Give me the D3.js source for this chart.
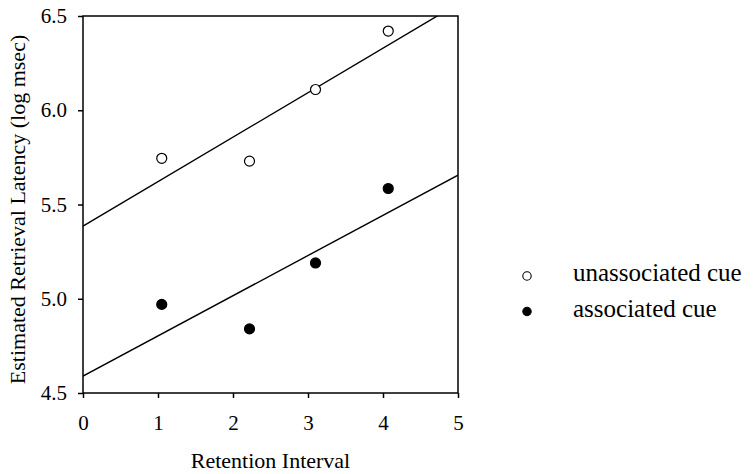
<!DOCTYPE html>
<html>
<head>
<meta charset="utf-8">
<script src="https://cdn.jsdelivr.net/npm/d3@7"></script>
<style>
  body { margin: 0; background: #fff; }
  .axis path, .axis line { stroke: #000; stroke-width: 1.5; }
</style>
</head>
<body>
<svg width="753" height="474"></svg>
<script>
// retention interval (x) for each group
var retention = [1.05, 2.22, 3.1, 4.07]
// estimated retrieval latency (log msec)
var unassociated = [5.745, 5.73, 6.11, 6.42]
var associated = [4.97, 4.84, 5.19, 5.585]
var seriesNames = ["unassociated cue", "associated cue"]
var xTicks = [0, 1, 2, 3, 4, 5]
var yTicks = [4.5, 5.0, 5.5, 6.0, 6.5]

var svg = d3.select("svg")
var margin = {left: 83, top: 16, right: 295, bottom: 81}
var w = 753 - margin.left - margin.right
var h = 474 - margin.top - margin.bottom

var x = d3.scaleLinear().domain([0, 5]).range([0, w])
var y = d3.scaleLinear().domain([4.5, 6.5]).range([h, 0])

var g = svg.append("g").attr("transform", `translate(${margin.left},${margin.top})`)

g.append("clipPath").attr("id", "clip")
  .append("rect").attr("width", w).attr("height", h)

// least squares line for a series
function fit(xs, ys) {
  var mx = d3.mean(xs), my = d3.mean(ys)
  var sxy = d3.sum(xs, (v, i) => (v - mx) * (ys[i] - my))
  var sxx = d3.sum(xs, v => (v - mx) * (v - mx))
  var b = sxy / sxx
  return {a: my - b * mx, b: b}
}

var series = [
  {name: seriesNames[0], values: unassociated, fill: "#fff"},
  {name: seriesNames[1], values: associated, fill: "#000"}
]

// regression lines
series.forEach(s => {
  var f = fit(retention, s.values)
  g.append("line")
    .attr("clip-path", "url(#clip)")
    .attr("x1", x(0)).attr("y1", y(f.a))
    .attr("x2", x(5)).attr("y2", y(f.a + f.b * 5))
    .attr("stroke", "#000")
    .attr("stroke-width", 1.4)
})

// frame
g.append("rect")
  .attr("width", w).attr("height", h)
  .attr("fill", "none").attr("stroke", "#000").attr("stroke-width", 1.5)

g.append("g").attr("class", "axis")
  .attr("transform", `translate(0,${h})`)
  .call(d3.axisBottom(x).tickValues(xTicks).tickFormat(d3.format("d")).tickSize(5).tickPadding(17))
g.append("g").attr("class", "axis")
  .call(d3.axisLeft(y).tickValues(yTicks).tickFormat(d3.format(".1f")).tickSize(5).tickPadding(11))
svg.selectAll(".axis .domain").remove()
svg.selectAll(".axis").attr("font-family", "Liberation Serif").attr("font-size", 21)

// points
series.forEach(s => {
  g.selectAll(null)
    .data(s.values.map((v, i) => [retention[i], v]))
    .enter()
    .append("circle")
    .attr("cx", d => x(d[0]))
    .attr("cy", d => y(d[1]))
    .attr("r", 5)
    .attr("fill", s.fill)
    .attr("stroke", "#000")
    .attr("stroke-width", 1.2)
})

// axis titles
g.append("text")
  .attr("x", w / 2).attr("y", h + 75)
  .attr("text-anchor", "middle")
  .attr("font-size", 22)
  .text("Retention Interval")

svg.append("text")
  .attr("transform", `translate(25,${margin.top + h / 2 + 5}) rotate(-90)`)
  .attr("text-anchor", "middle")
  .attr("font-size", 22)
  .text("Estimated Retrieval Latency (log msec)")

// legend
var legend = svg.append("g").attr("transform", "translate(527,276)")
series.forEach((s, i) => {
  var row = legend.append("g").attr("transform", `translate(0,${i * 35.5})`)
  row.append("circle")
    .attr("r", 4.2)
    .attr("fill", s.fill)
    .attr("stroke", "#000")
    .attr("stroke-width", 1.1)
  row.append("text")
    .attr("x", 46).attr("y", 5)
    .attr("font-size", 25)
    .text(s.name)
})

svg.selectAll("text").style("font-family", "Liberation Serif").attr("fill", "#000")
</script>
</body>
</html>
